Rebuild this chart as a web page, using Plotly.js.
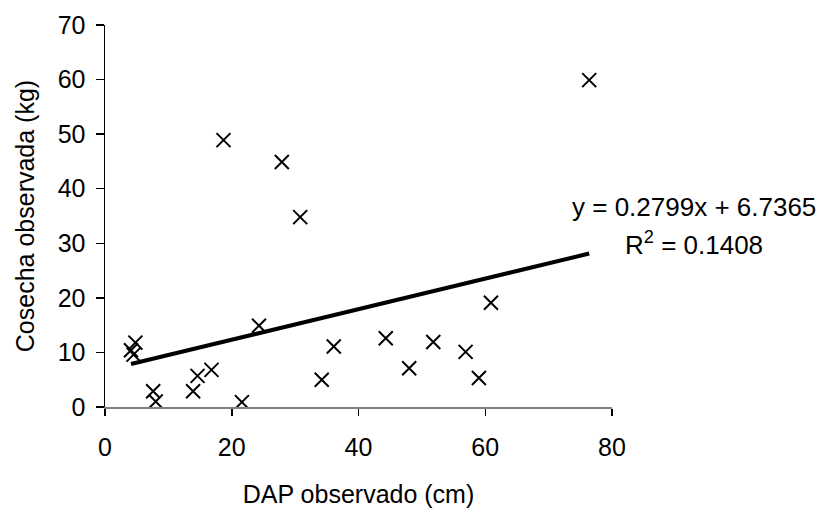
<!DOCTYPE html>
<html>
<head>
<meta charset="utf-8">
<script src="https://cdn.plot.ly/plotly-3.0.1.min.js"></script>
<style>html,body{margin:0;padding:0;background:#fff;}#chart{width:819px;height:508px;}</style>
</head>
<body>
<div id="chart"></div>
<script>
const dap = [4.8, 4.1, 4.5, 7.6, 8.0, 13.9, 14.6, 16.8, 18.7, 21.6, 24.3, 27.9, 30.8, 34.2, 36.1, 44.3, 48.0, 51.8, 56.9, 59.0, 60.9, 76.4];
const cosecha = [11.8, 10.4, 9.6, 2.9, 1.0, 2.9, 5.7, 6.8, 48.9, 0.9, 14.9, 44.9, 34.8, 5.0, 11.1, 12.6, 7.1, 11.9, 10.1, 5.3, 19.1, 59.9];
// Linear trend from the chart's equation
const slope = 0.2799;
const intercept = 6.7365;
const r2 = 0.1408;
const xTicks = [0, 20, 40, 60, 80];
const yTicks = [0, 10, 20, 30, 40, 50, 60, 70];

const xMin = Math.min(...dap), xMax = Math.max(...dap);
const trendX = [xMin, xMax];
const trendY = trendX.map(v => slope * v + intercept);

const font = {family: 'Liberation Sans, Arial, sans-serif', size: 25, color: '#000'};
const eqFont = {family: 'Liberation Sans, Arial, sans-serif', size: 26, color: '#000'};

const data = [
  {x: trendX, y: trendY, mode: 'lines', type: 'scatter', line: {color: '#000', width: 4}, hoverinfo: 'skip'},
  {x: dap, y: cosecha, mode: 'markers', type: 'scatter',
   marker: {symbol: 'x-thin', size: 14, color: '#000', line: {color: '#000', width: 2}}}
];

const layout = {
  width: 819, height: 508,
  margin: {l: 105, r: 207, t: 25, b: 101},
  paper_bgcolor: '#fff', plot_bgcolor: '#fff',
  showlegend: false,
  font: font,
  xaxis: {
    range: [0, 80], tickvals: xTicks, ticktext: xTicks.map(String),
    showgrid: false, zeroline: false, showline: true, linecolor: '#808080', linewidth: 2,
    ticks: 'outside', ticklen: 7, tickcolor: '#000', tickwidth: 1.5,
    tickfont: font, ticklabelstandoff: 10,
    title: {text: 'DAP observado (cm)', font: font, standoff: 28}
  },
  yaxis: {
    range: [0, 70], tickvals: yTicks, ticktext: yTicks.map(String),
    showgrid: false, zeroline: false, showline: true, linecolor: '#000', linewidth: 1.5,
    ticks: 'outside', ticklen: 8, tickcolor: '#000', tickwidth: 1.5,
    tickfont: font, ticklabelstandoff: 5,
    title: {text: 'Cosecha observada (kg)', font: font, standoff: 16}
  },
  annotations: [
    {xref: 'paper', yref: 'paper', x: 1.1617, y: 0.5236, xanchor: 'center', yanchor: 'middle', showarrow: false,
     text: 'y = ' + slope.toFixed(4) + 'x + ' + intercept.toFixed(4), font: eqFont},
    {xref: 'paper', yref: 'paper', x: 1.1617, y: 0.4293, xanchor: 'center', yanchor: 'middle', showarrow: false,
     text: 'R<sup>2</sup> = ' + r2.toFixed(4), font: eqFont}
  ]
};

Plotly.newPlot('chart', data, layout, {displayModeBar: false, staticPlot: true});
</script>
</body>
</html>
